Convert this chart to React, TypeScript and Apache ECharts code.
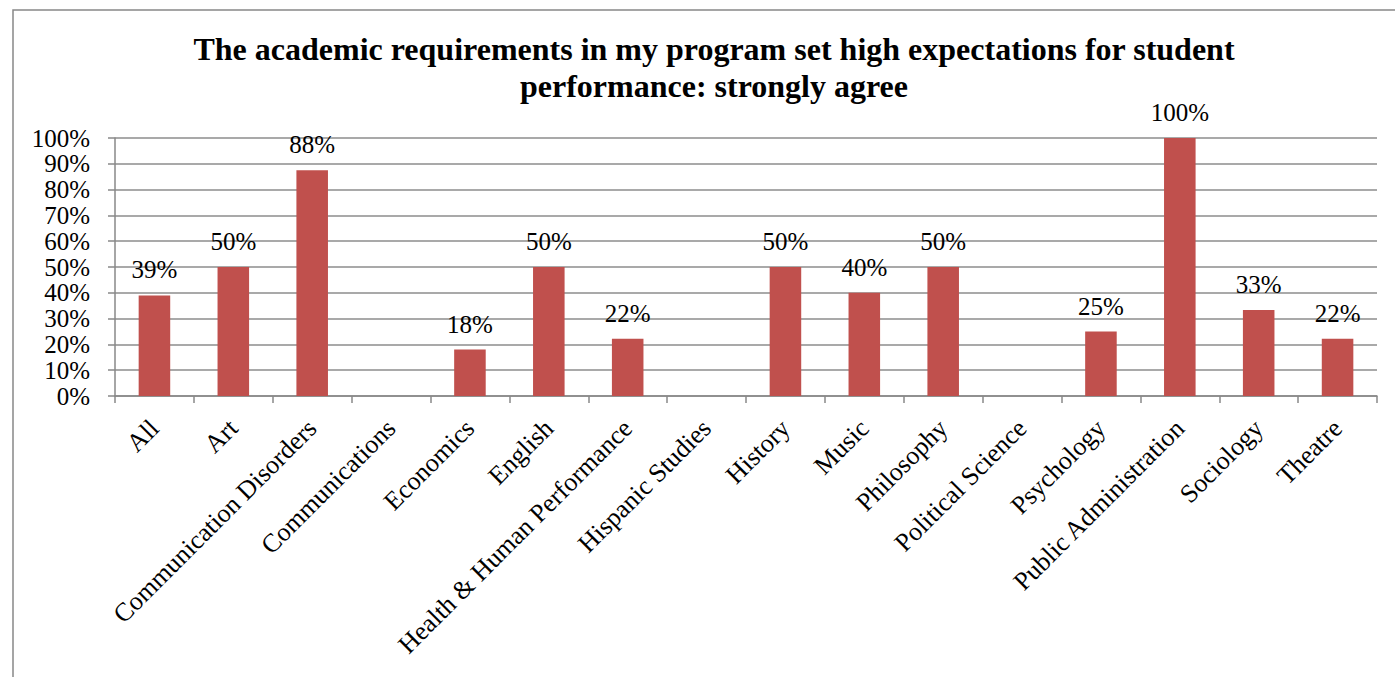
import React, { useEffect, useRef } from "react";
import * as echarts from "echarts";

const categories = [
  "All",
  "Art",
  "Communication Disorders",
  "Communications",
  "Economics",
  "English",
  "Health & Human Performance",
  "Hispanic Studies",
  "History",
  "Music",
  "Philosophy",
  "Political Science",
  "Psychology",
  "Public Administration",
  "Sociology",
  "Theatre",
];
const values = [39, 50, 87.5, 0, 18, 50, 22.2, 0, 50, 40, 50, 0, 25, 100, 33.3, 22.2];
const yTicks = [0, 10, 20, 30, 40, 50, 60, 70, 80, 90, 100];
const titleLines = [
  "The academic requirements in my program set high expectations for student",
  "performance: strongly agree",
];

const FONT = "Liberation Serif";

export default function App() {
  const ref = useRef<HTMLDivElement>(null);
  useEffect(() => {
    if (!ref.current) return;
    const chart = echarts.init(ref.current, undefined, { renderer: "svg" });
    chart.setOption({
      animation: false,
      backgroundColor: "#ffffff",
      title: {
        text: titleLines.join("\n"),
        left: 709,
        top: 25,
        textAlign: "center",
        textStyle: {
          fontFamily: FONT,
          fontWeight: "bold",
          fontSize: 32,
          lineHeight: 37,
          color: "#000",
        },
      },
      graphic: [
        {
          type: "rect",
          shape: { x: 13, y: 10, width: 1400, height: 700 },
          style: { fill: "none", stroke: "#888", lineWidth: 1.5 },
          silent: true,
        },
      ],
      grid: { left: 115, right: 18, top: 138, bottom: 281, containLabel: false },
      xAxis: {
        type: "category",
        data: categories,
        boundaryGap: true,
        axisLine: { show: true, lineStyle: { color: "#888", width: 1.5 } },
        axisTick: { show: true, alignWithLabel: false, length: 7, lineStyle: { color: "#888", width: 1.5 } },
        axisLabel: {
          rotate: 45,
          interval: 0,
          fontFamily: FONT,
          fontSize: 26,
          color: "#000",
          margin: 28,
        },
      },
      yAxis: {
        type: "value",
        min: 0,
        max: 100,
        interval: 10,
        axisLine: { show: true, lineStyle: { color: "#888", width: 1.5 } },
        axisTick: { show: true, length: 7, lineStyle: { color: "#888", width: 1.5 } },
        splitLine: { show: true, lineStyle: { color: "#8c8c8c", width: 1.5 } },
        axisLabel: {
          fontFamily: FONT,
          fontSize: 25,
          color: "#000",
          margin: 25,
          formatter: (v: number) => (yTicks.includes(v) ? `${v}%` : ""),
        },
      },
      series: [
        {
          type: "bar",
          data: values,
          barWidth: "40%",
          itemStyle: { color: "#C0504D" },
          label: {
            show: true,
            position: "top",
            distance: 13,
            fontFamily: FONT,
            fontSize: 25,
            color: "#000",
            formatter: (p: any) => (p.value > 0 ? `${Math.round(p.value)}%` : ""),
          },
        },
      ],
    });
    return () => chart.dispose();
  }, []);
  return (
    <div
      ref={ref}
      style={{ position: "fixed", left: 0, top: 0, width: 1395, height: 677 }}
    />
  );
}
